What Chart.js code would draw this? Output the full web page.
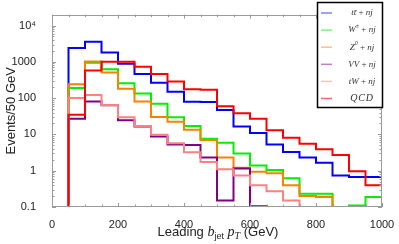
<!DOCTYPE html>
<html>
<head>
<meta charset="utf-8">
<script src="https://cdn.jsdelivr.net/npm/chart.js@4.4.1/dist/chart.umd.min.js"></script>
<style>
  html, body { margin: 0; padding: 0; background: #fff; }
  #wrap { width: 399px; height: 244px; }
</style>
</head>
<body>
<div id="wrap"><canvas id="histChart"></canvas></div>
<script>
// bin low edges (GeV), 50 GeV bins up to 1000
var binLow = [0, 50, 100, 150, 200, 250, 300, 350, 400, 450, 500, 550, 600, 650, 700, 750, 800, 850, 900, 950];
var xMax = 1000;

// events / 50 GeV (0 = empty bin)
var ttbar = [0, 2400, 3550, 1820, 880, 465, 265, 150, 80, 78, 47, 16.5, 11, 5.3, 3.3, 2.3, 1.65, 0.74, 0.67, 0.67];
var wjets = [0, 190, 940, 620, 258, 135, 70, 29.5, 17, 7.6, 5.9, 3.0, 1.4, 1.05, 0.62, 0.23, 0.23, 0, 0.11, 0.19];
var zjets = [0, 240, 1020, 510, 180, 81, 30, 22.5, 13.5, 7.0, 2.3, 1.2, 0.93, 0.85, 0.4, 0.2, 0.19, 0, 0, 0];
var vvjets = [0, 27, 81, 64, 24.5, 16.5, 8.7, 5.3, 5.1, 2.3, 0.15, 1.15, 0.105, 0, 0, 0, 0, 0, 0, 0];
var twjets = [0, 100, 122, 65, 29.5, 17, 9.8, 5.7, 3.2, 1.75, 1.1, 0.74, 0.4, 0.27, 0.15, 0, 0, 0, 0, 0];
var qcd = [0, 35, 580, 1000, 1000, 730, 465, 285, 175, 170, 60, 38, 27, 13, 8.1, 5.5, 3.9, 2.7, 0.97, 0.4];

var seriesNames = ['tt\u0304 + nj', 'W^\u00b1 + nj', 'Z^0 + nj', 'VV + nj', 'tW + nj', 'QCD'];
var seriesData = [ttbar, wjets, zjets, vvjets, twjets, qcd];
var seriesColors = ['#0000ff', '#00f000', '#ff8000', '#800080', '#ff8080', '#ff0000'];
var legendColors = ['rgba(0,0,255,0.5)', 'rgba(0,230,0,0.5)', 'rgba(255,128,0,0.5)', 'rgba(128,0,128,0.5)', 'rgba(255,128,128,0.5)', 'rgba(255,0,0,0.6)'];

var yTicks = [0.1, 1, 10, 100, 1000, 10000];
var yTickLabels = ['0.1', '1', '10', '100', '1000', '10\u2074'];
var yMin = 0.1, yMax = 20000;
var xTickStep = 200;

// empty bins cannot sit on a log axis, push them far below it
var EMPTY = 1e-4;

function stepPoints(vals) {
  var pts = binLow.map(function(x, i) {
    return {x: x, y: vals[i] > 0 ? vals[i] : EMPTY};
  });
  var last = vals[vals.length - 1];
  pts.push({x: xMax, y: last > 0 ? last : EMPTY});
  return pts;
}

var datasets = seriesData.map(function(vals, i) {
  return {
    label: seriesNames[i],
    data: stepPoints(vals),
    borderColor: seriesColors[i],
    backgroundColor: seriesColors[i],
    borderWidth: 2,
    stepped: 'before',
    pointRadius: 0,
    fill: false,
    order: seriesData.length - i   // QCD drawn last
  };
});

// draws mixed text runs (font changes, sub/superscripts) starting at x
function drawRuns(ctx, runs, x, y, align) {
  var total = 0;
  runs.forEach(function(r) { ctx.font = r.font; total += ctx.measureText(r.t).width; });
  if (align === 'center') x -= total / 2;
  runs.forEach(function(r) {
    ctx.font = r.font;
    ctx.fillText(r.t, x, y + (r.dy || 0));
    x += ctx.measureText(r.t).width;
  });
}

function labelRuns(str, size) {
  var runs = [];
  var base = 'italic ' + size + 'px "Liberation Serif", serif';
  var sup = 'italic ' + Math.round(size * 0.7) + 'px "Liberation Serif", serif';
  for (var i = 0; i < str.length; i++) {
    if (str[i] === '^') {
      runs.push({t: str[i + 1], font: sup, dy: -size * 0.4});
      i++;
    } else if (str[i] === '+') {
      runs.push({t: ' + ', font: size + 'px "Liberation Serif", serif'});
    } else if (str[i] === ' ') {
      // spacing handled by '+'
    } else if (str[i + 1] === '\u0304') {
      runs.push({t: str[i] + str[i + 1], font: base});
      i++;
    } else {
      runs.push({t: str[i], font: base});
    }
  }
  return runs;
}

var framePlugin = {
  id: 'frame',
  afterDatasetsDraw: function(chart) {
    var ctx = chart.ctx, a = chart.chartArea;
    var xs = chart.scales.x, ys = chart.scales.y;
    ctx.save();
    ctx.strokeStyle = '#9a9a9a';
    ctx.lineWidth = 1;
    ctx.strokeRect(Math.round(a.left) + 0.5, Math.round(a.top) + 0.5,
      Math.round(a.right - a.left) - 1, Math.round(a.bottom - a.top) - 1);
    ctx.beginPath();
    // log ticks left and right
    for (var d = -1; d <= 4; d++) {
      for (var m = 1; m <= 9; m++) {
        var v = m * Math.pow(10, d);
        if (v < yMin || v > yMax) continue;
        var len = m === 1 ? 4 : 2.5;
        var py = Math.round(ys.getPixelForValue(v)) + 0.5;
        ctx.moveTo(a.left, py); ctx.lineTo(a.left + len, py);
        ctx.moveTo(a.right, py); ctx.lineTo(a.right - len, py);
      }
    }
    // linear ticks top and bottom
    for (var xv = 0; xv <= xMax; xv += 50) {
      var l2 = xv % xTickStep === 0 ? 4 : 2.5;
      var px = Math.round(xs.getPixelForValue(xv)) + 0.5;
      ctx.moveTo(px, a.bottom); ctx.lineTo(px, a.bottom - l2);
      ctx.moveTo(px, a.top); ctx.lineTo(px, a.top + l2);
    }
    ctx.stroke();
    ctx.restore();
  },
  afterDraw: function(chart) {
    var ctx = chart.ctx, a = chart.chartArea;
    ctx.save();
    // x axis title
    ctx.fillStyle = '#222';
    ctx.textBaseline = 'alphabetic';
    var sans = '13px "Liberation Sans", Arial, sans-serif';
    var it = 'italic 14px "Liberation Serif", serif';
    var small = '9px "Liberation Sans", Arial, sans-serif';
    var smallIt = 'italic 10px "Liberation Serif", serif';
    drawRuns(ctx, [
      {t: 'Leading ', font: sans},
      {t: 'b', font: it},
      {t: 'jet', font: small, dy: 3},
      {t: ' ', font: sans},
      {t: 'p', font: it},
      {t: 'T', font: smallIt, dy: 3},
      {t: ' (GeV)', font: sans}
    ], (a.left + a.right) / 2 + 1, 236, 'center');

    // legend box
    var bx = 317, by = 2, bw = 66, bh = 106;
    ctx.fillStyle = '#fff';
    ctx.fillRect(bx, by, bw, bh);
    ctx.strokeStyle = '#000';
    ctx.lineWidth = 1.5;
    ctx.strokeRect(bx + 0.5, by + 0.5, bw - 1, bh - 1);
    ctx.textBaseline = 'middle';
    ctx.fillStyle = '#333';
    seriesNames.forEach(function(name, i) {
      var cy = 13 + i * 17.1;
      ctx.strokeStyle = legendColors[i];
      ctx.lineWidth = 1.5;
      ctx.beginPath();
      ctx.moveTo(321, cy); ctx.lineTo(332, cy);
      ctx.stroke();
      var size = name === 'QCD' ? 10 : 9;
      var runs = labelRuns(name, size);
      if (name === 'QCD') runs = runs.map(function(r) { return {t: r.t + '\u200a', font: r.font}; });
      drawRuns(ctx, runs, 362, cy, 'center');
    });
    ctx.restore();
  }
};

var ctx = document.getElementById('histChart');
new Chart(ctx, {
  type: 'line',
  data: { datasets: datasets },
  options: {
    responsive: true,
    maintainAspectRatio: false,
    animation: false,
    layout: { padding: { top: 4, right: 17, left: 0, bottom: 0 } },
    plugins: {
      legend: { display: false },
      tooltip: { enabled: false }
    },
    scales: {
      x: {
        type: 'linear',
        min: 0,
        max: xMax,
        grid: { display: false },
        border: { display: false },
        ticks: {
          stepSize: xTickStep,
          maxRotation: 0,
          padding: 3,
          color: '#222',
          font: { family: '"Liberation Sans", Arial, sans-serif', size: 11 },
          callback: function(v) { return String(v); }
        },
        afterFit: function(s) { s.height = 37; }
      },
      y: {
        type: 'logarithmic',
        min: yMin,
        max: yMax,
        grid: { display: false },
        border: { display: false },
        afterBuildTicks: function(s) {
          s.ticks = yTicks.map(function(v) { return {value: v}; });
        },
        ticks: {
          autoSkip: false,
          padding: 8,
          color: '#222',
          font: { family: '"Liberation Sans", Arial, sans-serif', size: 11 },
          callback: function(v) {
            var i = yTicks.indexOf(v);
            return i >= 0 ? yTickLabels[i] : '';
          }
        },
        title: {
          display: true,
          text: 'Events/50 GeV',
          color: '#222',
          padding: { top: 4, bottom: 0 },
          font: { family: '"Liberation Sans", Arial, sans-serif', size: 13 }
        },
        afterFit: function(s) { s.width = 52; }
      }
    }
  },
  plugins: [framePlugin]
});
</script>
</body>
</html>
